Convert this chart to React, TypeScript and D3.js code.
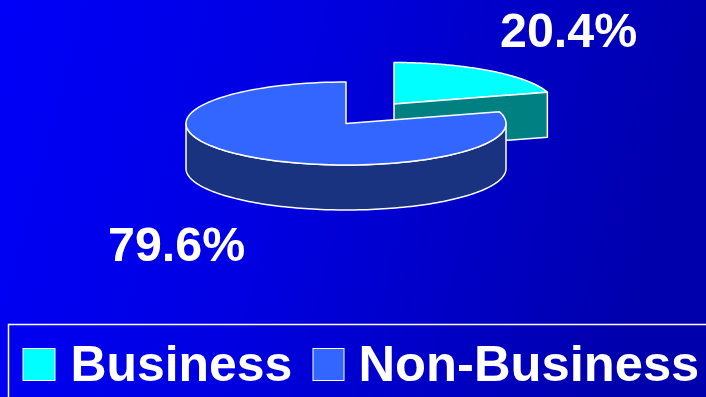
import React from "react";
import * as d3 from "d3";

const categories = ["Business", "Non-Business"];
const shares = [20.4, 79.6];
const shareLabels = ["20.4%", "79.6%"];
const topColors = ["#00FFFF", "#3366FF"];
const wallColors = ["#008080", "#1A3380"];

const W = 706;
const H = 397;
const RX = 160;
const RY = 41.5;
const DEPTH = 45;
// Centre of each wedge's top face; the Business wedge is pulled out from the pie.
const centres: [number, number][] = [
  [394, 104],
  [346, 123.5],
];

const slices = d3
  .pie<number>()
  .sort(null)
  .startAngle(0)
  .endAngle(2 * Math.PI)(shares);

// Tilted-disc projection: 0 is at the top, angles run clockwise.
const rim = (c: [number, number], a: number, drop = 0): [number, number] => [
  c[0] + RX * Math.sin(a),
  c[1] - RY * Math.cos(a) + drop,
];

const line = d3.line();
const closed = (pts: [number, number][]) => (line(pts) ?? "") + "Z";

function arcPoints(c: [number, number], a0: number, a1: number, drop = 0) {
  return d3.range(0, 121).map((i) => rim(c, a0 + ((a1 - a0) * i) / 120, drop));
}

export default function App() {
  const [biz, non] = slices;
  const cb = centres[0];
  const cn = centres[1];

  const bizTop = closed([cb, ...arcPoints(cb, biz.startAngle, biz.endAngle)]);
  const bizEnd = rim(cb, biz.endAngle);
  const bizWall = closed([
    cb,
    bizEnd,
    [bizEnd[0], bizEnd[1] + DEPTH],
    [cb[0], cb[1] + DEPTH],
  ]);

  const nonTop = closed([cn, ...arcPoints(cn, non.startAngle, non.endAngle)]);
  const nonWall = closed([
    ...arcPoints(cn, Math.PI / 2, (3 * Math.PI) / 2),
    ...arcPoints(cn, (3 * Math.PI) / 2, Math.PI / 2, DEPTH),
  ]);

  const font = "'Liberation Sans', Arial, sans-serif";
  const edge = { stroke: "#fff", strokeWidth: 1.5, strokeLinejoin: "round" as const };

  return (
    <svg
      width={W}
      height={H}
      viewBox={`0 0 ${W} ${H}`}
      style={{ position: "fixed", left: 0, top: 0, display: "block" }}
    >
      <defs>
        <linearGradient id="bg" x1="0" y1="0" x2="1" y2="0.15">
          <stop offset="0" stopColor="#0000F8" />
          <stop offset="0.45" stopColor="#0000E0" />
          <stop offset="1" stopColor="#0000AC" />
        </linearGradient>
      </defs>
      <rect width={W} height={H} fill="url(#bg)" />

      <path d={bizTop} fill={topColors[0]} {...edge} />
      <path d={bizWall} fill={wallColors[0]} {...edge} />
      <path d={nonWall} fill={wallColors[1]} {...edge} />
      <path d={nonTop} fill={topColors[1]} {...edge} />

      <g fontFamily={font} fontWeight={700} fill="#fff" fontSize={48.4}>
        <text x={500} y={46.5}>{shareLabels[0]}</text>
        <text x={108} y={260.5}>{shareLabels[1]}</text>
      </g>

      <rect x={8.5} y={324.5} width={W + 10} height={H} fill="none" stroke="#fff" strokeWidth={1.5} />
      <g fontFamily={font} fontWeight={700} fill="#fff">
        <rect x={23} y={348.5} width={32} height={32} fill={topColors[0]} stroke="#fff" />
        <text x={70.5} y={381} fontSize={49.9}>{categories[0]}</text>
        <rect x={313} y={348.5} width={31} height={32} fill={topColors[1]} stroke="#fff" />
        <text x={358.5} y={381} fontSize={50.7}>{categories[1]}</text>
      </g>
    </svg>
  );
}
